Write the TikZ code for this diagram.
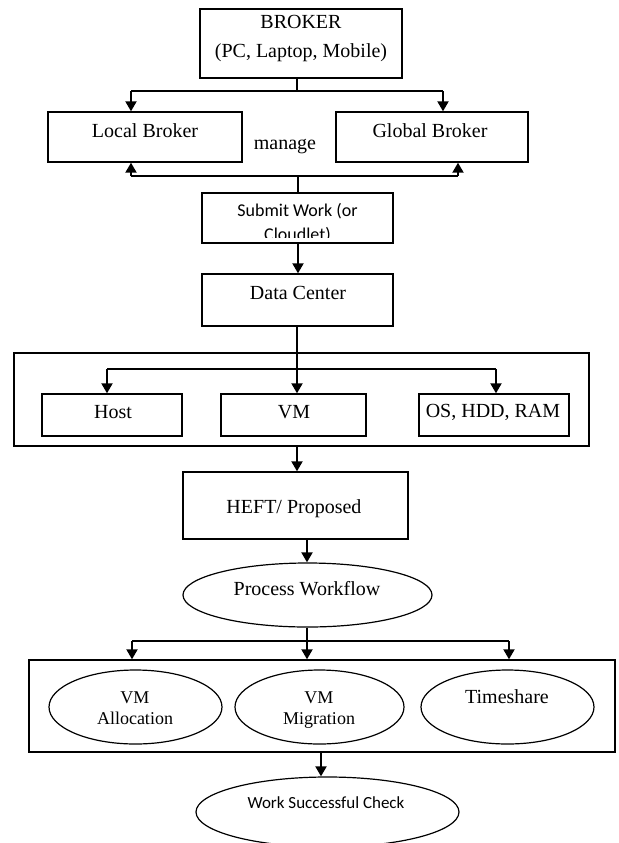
\documentclass[tikz,border=0pt]{standalone}
\usepackage{fontspec}
\setmainfont{Liberation Serif}
\newfontfamily\calibri{Carlito}
\usetikzlibrary{arrows.meta,shapes.geometric}
\begin{document}
\begin{tikzpicture}[x=0.5pt,y=-0.5pt,
  box/.style={draw, line width=0.65pt, rectangle, inner sep=0pt},
  oval/.style={draw, line width=0.6pt, ellipse, inner sep=0pt},
  txt/.style={font=\fontsize{10}{14.5}\selectfont, inner sep=0pt, align=center},
  btxt/.style={font=\fontsize{9}{10.5}\selectfont, inner sep=0pt, anchor=base},
  stxt/.style={font=\calibri\fontsize{9}{11.5}\selectfont, inner sep=0pt},
  conn/.style={line width=0.75pt},
  arr/.style={line width=1.2pt, -{Triangle[length=5pt,width=5.4pt]}}]
\fill[white] (0,0) rectangle (619,843);
\clip (0,0) rectangle (619,843);

% boxes
\node[box, minimum width=101pt, minimum height=34.5pt] (broker) at (301,43.5) {};
\node[box, minimum width=97pt, minimum height=25pt] (local) at (145,137) {};
\node[box, minimum width=96pt, minimum height=25pt] (global) at (432,137) {};
\node[box, minimum width=95.5pt, minimum height=25pt] (submit) at (297.5,218) {};
\node[box, minimum width=95.5pt, minimum height=26pt] (dc) at (297.5,300) {};
\node[box, minimum width=287.5pt, minimum height=46.5pt] (outer1) at (301.5,399.5) {};
\node[box, minimum width=70pt, minimum height=21pt] (host) at (112,415) {};
\node[box, minimum width=72.5pt, minimum height=21pt] (vm) at (293.5,415) {};
\node[box, minimum width=75pt, minimum height=21pt] (os) at (494,415) {};
\node[box, minimum width=112.5pt, minimum height=33.5pt] (heft) at (295.5,505.5) {};
\node[oval, minimum width=124.5pt, minimum height=32pt] (pw) at (307.5,595) {};
\node[box, minimum width=293pt, minimum height=46pt] (outer2) at (322,706) {};
\node[oval, minimum width=86.5pt, minimum height=37pt] (alloc) at (135.5,707) {};
\node[oval, minimum width=84.5pt, minimum height=37pt] (migr) at (319.5,707) {};
\node[oval, minimum width=86.5pt, minimum height=37pt] (time) at (507.5,707) {};
\node[oval, minimum width=131.5pt, minimum height=35pt] (wsc) at (327.5,812) {};

% texts
\node[txt] (tbroker) at (301,38.5) {BROKER\\(PC, Laptop, Mobile)};
\node[txt] (tlocal) at (145,131) {Local Broker};
\node[txt] (tglobal) at (430,131) {Global Broker};
\node[txt] (tmanage) at (285,147) {manage};
\begin{scope}
  \clip (202,193) rectangle (393,237);
  \node[stxt, anchor=base] (tsub1) at (297.5,216) {Submit Work (or};
  \node[stxt, anchor=base] (tsub2) at (297.5,240) {Cloudlet)};
\end{scope}
\node[txt] (tdc) at (298,293) {Data Center};
\node[txt] (thost) at (113,412) {Host};
\node[txt] (tvm) at (294,412) {VM};
\node[txt] (tos) at (493,412) {OS, HDD, RAM};
\node[txt] (theft) at (294,509) {HEFT/ Proposed};
\node[txt] (tpw) at (307,589) {Process Workflow};
\node[btxt] (talloc1) at (135,703) {VM};
\node[btxt] (talloc2) at (135,724) {Allocation};
\node[btxt] (tmigr1) at (319,703) {VM};
\node[btxt] (tmigr2) at (319,724) {Migration};
\node[txt] (ttime) at (507,697) {Timeshare};
\node[stxt, font=\calibri\fontsize{8.5}{10}\selectfont] (twsc) at (326,803) {Work Successful Check};

% connector helpers
\coordinate (xl) at (131,0);
\coordinate (xg) at (443,0);
\coordinate (xg2) at (458,0);
\coordinate (xc) at (298,0);
\coordinate (xc2) at (297,0);
\coordinate (xh) at (107,0);
\coordinate (xo) at (496,0);
\coordinate (xp) at (307,0);
\coordinate (xa) at (132,0);
\coordinate (xt) at (509,0);
\coordinate (xw) at (321,0);
\coordinate (j1) at (297,91);
\coordinate (j2) at (298,176);
\coordinate (j3) at (297,369);
\coordinate (j4) at (307,641);

% broker -> local / global
\draw[conn] (broker.south -| j1) -- (j1);
\draw[conn] (j1 -| xl) -- (j1 -| xg);
\draw[arr] (j1 -| xl) -- (local.north -| xl);
\draw[arr] (j1 -| xg) -- (global.north -| xg);

% submit -> local / global
\draw[conn] (submit.north -| j2) -- (j2);
\draw[conn] (j2 -| xl) -- (j2 -| xg2);
\draw[arr] (j2 -| xl) -- (local.south -| xl);
\draw[arr] (j2 -| xg2) -- (global.south -| xg2);

% submit -> data center
\draw[arr] (submit.south -| xc) -- (dc.north -| xc);

% data center -> host / vm / os
\draw[conn] (dc.south -| j3) -- (j3);
\draw[conn] (j3 -| xh) -- (j3 -| xo);
\draw[arr] (j3 -| xh) -- (host.north -| xh);
\draw[arr] (outer1.north -| j3) -- (vm.north -| j3);
\draw[arr] (j3 -| xo) -- (os.north -| xo);

% outer1 -> heft -> process workflow
\draw[arr] (outer1.south -| xc2) -- (heft.north -| xc2);
\draw[arr] (heft.south -| xp) -- (pw.north -| xp);

% process workflow -> outer2
\draw[conn] (pw.south -| j4) -- (j4);
\draw[conn] (j4 -| xa) -- (j4 -| xt);
\draw[arr] (j4 -| xa) -- (outer2.north -| xa);
\draw[arr] (j4) -- (outer2.north -| j4);
\draw[arr] (j4 -| xt) -- (outer2.north -| xt);

% outer2 -> work successful check
\draw[arr] (outer2.south -| xw) -- (wsc.north -| xw);
\end{tikzpicture}
\end{document}
